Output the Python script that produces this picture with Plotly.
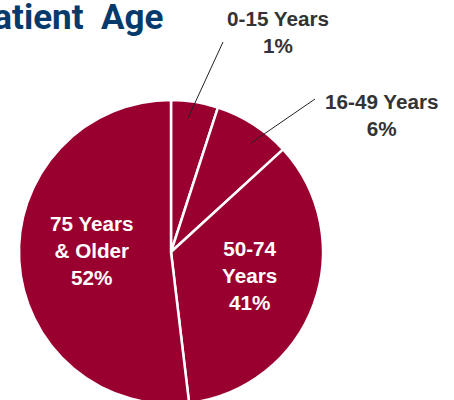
import plotly.graph_objects as go

# Data (slice sizes as drawn, label texts as printed)
categories = ["0-15 Years", "16-49 Years", "50-74 Years", "75 Years & Older"]
slice_values = [5.0, 8.2, 34.9, 51.9]
label_texts = ["0-15 Years<br>1%", "16-49 Years<br>6%", "50-74<br>Years<br>41%", "75 Years<br>& Older<br>52%"]
title_text = "Patient Age"

W, H = 454, 420
def px(x):
    return x / W
def py(y):
    return 1 - y / H

cx, cy, r = 171, 252, 152

fig = go.Figure(go.Pie(
    labels=categories,
    values=slice_values,
    sort=False,
    direction="clockwise",
    rotation=0,
    textinfo="none",
    hoverinfo="label+percent",
    marker=dict(colors=["#990030"] * 4, line=dict(color="white", width=2.5)),
    domain=dict(x=[px(cx - r), px(cx + r)], y=[py(cy + r), py(cy - r)]),
    showlegend=False,
))

fs = 20.7
outside_font = dict(family="Liberation Sans, Arial", size=fs, color="#333333")
inside_font = dict(family="Liberation Sans, Arial", size=fs, color="white")

annotations = [
    dict(text="<b>" + title_text.replace(" ", "\u00a0\u00a0") + "</b>", x=px(165), y=py(18),
         xref="paper", yref="paper", xanchor="right", yanchor="middle", showarrow=False,
         font=dict(family="Roboto", size=35, color="#063a6d")),
    dict(text="<b>" + label_texts[0] + "</b>", x=px(278), y=py(32), xref="paper", yref="paper",
         xanchor="center", yanchor="middle", showarrow=False, font=outside_font),
    dict(text="<b>" + label_texts[1] + "</b>", x=px(382), y=py(115), xref="paper", yref="paper",
         xanchor="center", yanchor="middle", showarrow=False, font=outside_font),
    dict(text="<b>" + label_texts[2] + "</b>", x=px(250), y=py(275), xref="paper", yref="paper",
         xanchor="center", yanchor="middle", showarrow=False, font=inside_font),
    dict(text="<b>" + label_texts[3] + "</b>", x=px(92), y=py(250), xref="paper", yref="paper",
         xanchor="center", yanchor="middle", showarrow=False, font=inside_font),
]

shapes = [
    dict(type="line", xref="paper", yref="paper", x0=px(223), y0=py(42), x1=px(188), y1=py(118),
         line=dict(color="#222222", width=1)),
    dict(type="line", xref="paper", yref="paper", x0=px(315), y0=py(99), x1=px(251), y1=py(143),
         line=dict(color="#222222", width=1)),
]

fig.update_layout(
    width=W, height=H, autosize=False,
    margin=dict(l=0, r=0, t=0, b=0),
    paper_bgcolor="white", plot_bgcolor="white",
    annotations=annotations, shapes=shapes,
)

fig.write_html(
    "out.html",
    config={"displayModeBar": False},
    post_script="document.body.style.margin='0';document.body.style.overflow='hidden';",
)
